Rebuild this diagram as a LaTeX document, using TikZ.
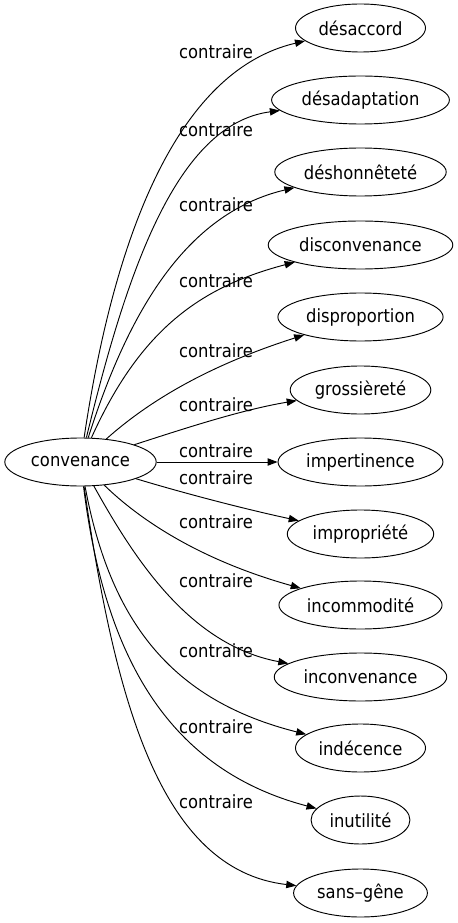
\documentclass[tikz,border=0pt]{standalone}
\usepackage{fontspec}
\setmainfont{DejaVu Sans}[FakeStretch=0.9]
\usetikzlibrary{arrows.meta,shapes.geometric}
\begin{document}
\begin{tikzpicture}[x=0.75pt,y=-0.75pt,
  every node/.style={font=\fontsize{13.65pt}{16pt}\selectfont},
  term/.style={draw, ellipse, inner xsep=3pt, inner ysep=2pt, minimum height=36pt, line width=0.7pt},
  rel/.style={-{Triangle[length=7.5pt,width=5.5pt]}, line width=0.7pt},
  lab/.style={inner sep=0pt}]
\useasboundingbox (0,0) rectangle (457,923);
\node[term] (c) at (80.5,462) {convenance};
\node[term] (n1) at (360.5,28) {désaccord};
\node[term] (n2) at (360.5,100) {désadaptation};
\node[term] (n3) at (360.5,172) {déshonnêteté};
\node[term] (n4) at (360.5,245) {disconvenance};
\node[term] (n5) at (360.5,317) {disproportion};
\node[term] (n6) at (360.5,390) {grossièreté};
\node[term] (n7) at (360.5,462) {impertinence};
\node[term] (n8) at (360.5,534) {impropriété};
\node[term] (n9) at (360.5,605) {incommodité};
\node[term] (n10) at (360.5,677) {inconvenance};
\node[term] (n11) at (360.5,748) {indécence};
\node[term] (n12) at (360.5,820) {inutilité};
\node[term] (n13) at (360.5,893) {sans–gêne};
\node[lab] (l1) at (216,52) {contraire};
\node[lab] (l2) at (216,130) {contraire};
\node[lab] (l3) at (216,205) {contraire};
\node[lab] (l4) at (216,281) {contraire};
\node[lab] (l5) at (216,351) {contraire};
\node[lab] (l6) at (216,405) {contraire};
\node[lab] (l7) at (216,451) {contraire};
\node[lab] (l8) at (216,478) {contraire};
\node[lab] (l9) at (216,522) {contraire};
\node[lab] (l10) at (216,581) {contraire};
\node[lab] (l11) at (216,651) {contraire};
\node[lab] (l12) at (216,727) {contraire};
\node[lab] (l13) at (216,802) {contraire};
\draw[rel] (c) .. controls (112,250) and (172,72) .. (n1);
\draw[rel] (c) .. controls (127,270) and (177,124) .. (n2);
\draw[rel] (c) .. controls (132,300) and (192,212) .. (n3);
\draw[rel] (c) .. controls (140,330) and (200,287) .. (n4);
\draw[rel] (c) .. controls (150,400) and (210,365) .. (n5);
\draw[rel] (c) .. controls (180,430) and (240,410) .. (n6);
\draw[rel] (c) -- (n7);
\draw[rel] (c) .. controls (180,492) and (240,508) .. (n8);
\draw[rel] (c) .. controls (140,520) and (200,560) .. (n9);
\draw[rel] (c) .. controls (135,560) and (190,645) .. (n10);
\draw[rel] (c) .. controls (110,620) and (170,700) .. (n11);
\draw[rel] (c) .. controls (105,660) and (170,770) .. (n12);
\draw[rel] (c) .. controls (115,700) and (160,870) .. (n13);
\end{tikzpicture}
\end{document}
